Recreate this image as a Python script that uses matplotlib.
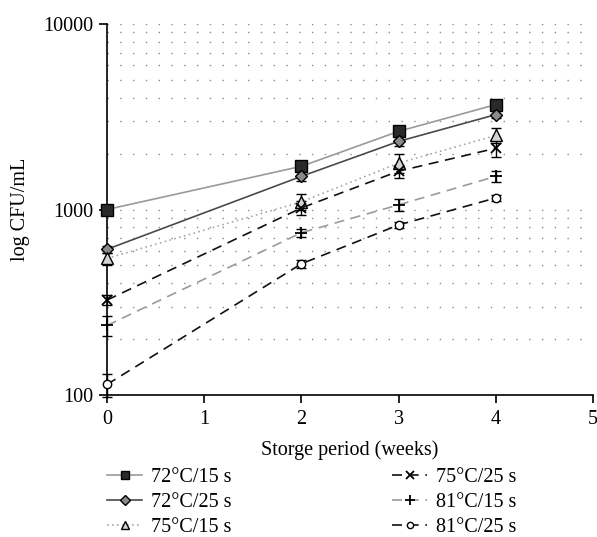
import matplotlib
matplotlib.use("Agg")
import numpy as np
import matplotlib.pyplot as plt
from matplotlib.ticker import FixedLocator, NullFormatter, NullLocator

plt.rcParams['font.family'] = ['Liberation Serif', 'DejaVu Serif']

# ---------- data ----------
weeks = [0, 2, 3, 4]
labels = ["72°C/15 s", "72°C/25 s", "75°C/15 s", "75°C/25 s", "81°C/15 s", "81°C/25 s"]

cfu_72_15 = [1000, 1710, 2640, 3680]
cfu_72_25 = [610, 1510, 2330, 3250]
cfu_75_15 = [545, 1100, 1780, 2510]
cfu_75_25 = [325, 1020, 1610, 2140]
cfu_81_15 = [237, 750, 1060, 1510]
cfu_81_25 = [114, 510, 826, 1155]

err_72_15 = [30, 60, 80, 100]
err_72_25 = [25, 80, 120, 150]
err_75_15 = [40, 110, 200, 230]
err_75_25 = [20, 90, 130, 230]
err_81_15 = [30, 40, 80, 95]
err_81_25 = [16, 25, 35, 40]

series = [cfu_72_15, cfu_72_25, cfu_75_15, cfu_75_25, cfu_81_15, cfu_81_25]
errors = [err_72_15, err_72_25, err_75_15, err_75_25, err_81_15, err_81_25]

# styles: line colour, line style, marker, marker face, marker size
styles = [
    ("#9a9a9a", "-", "s", "#2a2a2a", 8.5),
    ("#4a4a4a", "-", "D", "#8a8a8a", 6.5),
    ("#a8a8a8", (0, (1, 2)), "^", "#d4d4d4", 8.0),
    ("#111111", (0, (6, 4)), "x", "none", 7.5),
    ("#9a9a9a", (0, (6, 4)), "+", "none", 9.0),
    ("#111111", (0, (6, 4)), "o", "white", 6.0),
]

fig = plt.figure(figsize=(5.97, 5.37), dpi=100)
ax = fig.add_axes([0.1792, 0.2644, 0.8145, 0.6909])

ax.set_yscale("log")
ax.set_xlim(0, 5)
ax.set_ylim(100, 10000)

# dotted grid at every decade step
grid_levels = [m * 10 ** e for e in (2, 3) for m in range(1, 10)] + [10000]
for g in grid_levels:
    ax.axhline(g, color="#8c8c8c", lw=1.0, ls=(0, (1, 8.2)), zorder=0)

handles = []
for vals, errs, (lc, ls, mk, mf, ms), lab in zip(series, errors, styles, labels):
    ax.errorbar(weeks, vals, yerr=errs, fmt="none", ecolor="black",
                elinewidth=1.0, capsize=3.6, capthick=1.0, zorder=3, clip_on=False)
    h, = ax.plot(weeks, vals, color=lc, ls=ls, lw=1.2, marker=mk,
                 markerfacecolor=mf, markeredgecolor="black", markersize=ms,
                 markeredgewidth=1.0 if mk not in ("x", "+") else 1.3,
                 zorder=4, clip_on=False, label=lab)
    handles.append(h)

# axes styling
for side in ("top", "right"):
    ax.spines[side].set_visible(False)
ax.spines["left"].set_linewidth(1.2)
ax.spines["bottom"].set_linewidth(1.2)

ax.set_xticks([0, 1, 2, 3, 4, 5])
ax.yaxis.set_major_locator(FixedLocator([100, 1000, 10000]))
ax.set_yticklabels(["100", "1000", "10000"])
ax.yaxis.set_minor_locator(NullLocator())
ax.yaxis.set_minor_formatter(NullFormatter())
ax.tick_params(axis="both", direction="out", length=6, width=1.2, labelsize=14.5)
ax.tick_params(axis="x", pad=5)

ax.set_xlabel("Storge period (weeks)", fontsize=14.5, labelpad=8)
ax.set_ylabel("log CFU/mL", fontsize=14.5, labelpad=10)

# two legend columns placed separately
leg_kw = dict(loc="upper left", frameon=False, fontsize=14.5, handlelength=1.75,
              handletextpad=0.45, labelspacing=0.3, borderpad=0, borderaxespad=0,
              markerscale=0.75)
leg_top = 1 - 467.5 / 537
leg1 = fig.legend(handles=handles[:3], bbox_to_anchor=(107 / 597, leg_top), **leg_kw)
leg2 = fig.legend(handles=handles[3:], bbox_to_anchor=(392 / 597, leg_top), **leg_kw)

fig.savefig("out.png", dpi=100)
